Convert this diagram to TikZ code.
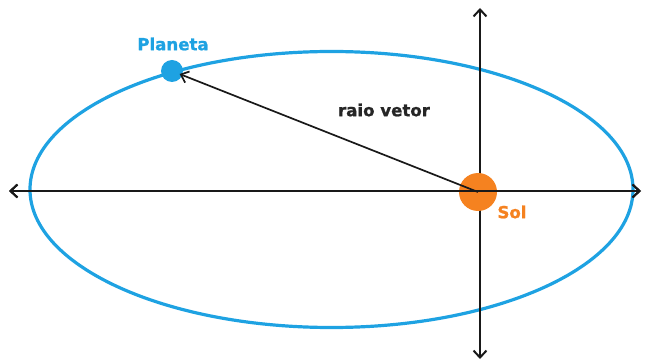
\documentclass[tikz,border=0pt]{standalone}
\usepackage{fontspec}
\setmainfont{DejaVu Sans}[BoldFeatures={FakeBold=1.2}]
\usetikzlibrary{arrows.meta}
\definecolor{orbitblue}{RGB}{30,162,226}
\definecolor{sunorange}{RGB}{245,130,32}
\tikzset{
  axis/.style={line width=2pt, black!90, {Straight Barb[length=7pt,width=13pt]}-{Straight Barb[length=7pt,width=13pt]}},
  lbl/.style={font=\fontsize{16.6}{18}\selectfont\bfseries, inner sep=0pt},
}
\begin{document}
\begin{tikzpicture}[x=1pt,y=-1pt]
\useasboundingbox (0,0) rectangle (648,363);
\draw[orbitblue, line width=3.2pt] (331.5,189.5) ellipse [x radius=301.5, y radius=138];
\coordinate (L) at (9,191);
\coordinate (R) at (641,191);
\coordinate (T) at (480,8);
\coordinate (B) at (480,359);
\draw[axis] (L) -- (R);
\draw[axis] (B) -- (T);
\node[circle, fill=sunorange, minimum size=38pt, inner sep=0pt] (sol) at (478,192) {};
\node[circle, fill=orbitblue, minimum size=22pt, inner sep=0pt] (planeta) at (172,71) {};
\draw[axis] (R) -- (L);
\draw[line width=1.7pt, black!90, -{Straight Barb[length=7pt,width=12pt]}, shorten >=-3pt] (sol.center) -- (planeta);
\node[lbl, orbitblue] (tplaneta) at (173,44) {Planeta};
\node[lbl, sunorange] (tsol) at (512,212) {Sol};
\node[lbl, black!85] (traio) at (384,110) {raio vetor};
\end{tikzpicture}
\end{document}
